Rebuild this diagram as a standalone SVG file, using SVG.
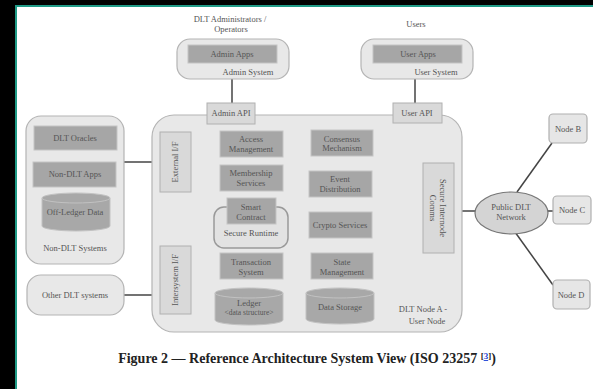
<svg xmlns="http://www.w3.org/2000/svg" width="593" height="389" viewBox="0 0 593 389">
<defs>
<style>
text{font-family:"Liberation Serif","DejaVu Serif",serif;font-size:8.5px;fill:#555;text-anchor:middle}
.cont{fill:#e8e8e8;stroke:#b4b4b4;stroke-width:1.2}
.dark{fill:#a6a6a6;stroke:#c4c4c4;stroke-width:1}
.iface{fill:#d9d9d9;stroke:#b0b0b0;stroke-width:1}
.cyl{fill:#a8a8a8;stroke:#c2c2c2;stroke-width:1}
.node{fill:#e6e6e6;stroke:#b0b0b0;stroke-width:1.2}
.conn line{stroke:#444;stroke-width:1.5}
.cap{font-size:14px;font-weight:bold;fill:#222}
</style>
</defs>
<rect x="0" y="0" width="593" height="389" fill="#000"/>
<rect x="15" y="5" width="578" height="384" fill="#1f9a86"/>
<rect x="17" y="7" width="576" height="382" fill="#fff"/>

<g class="conn" id="connectors">
<line x1="232" y1="79" x2="232" y2="103"/>
<line x1="415" y1="79" x2="415" y2="103"/>
<line x1="124" y1="162" x2="152" y2="162"/>
<line x1="124" y1="295" x2="152" y2="295"/>
<line x1="462" y1="211" x2="475" y2="211"/>
<line x1="517" y1="192" x2="552" y2="143"/>
<line x1="548" y1="211" x2="553" y2="211"/>
<line x1="515" y1="232" x2="553" y2="285"/>
</g>

<text x="230" y="22">DLT Administrators /</text>
<text x="231" y="32">Operators</text>
<text x="416" y="27">Users</text>

<g id="admin-system">
<rect class="cont" x="177" y="39" width="112" height="40" rx="13"/>
<rect class="dark" x="188" y="45" width="89" height="18"/>
<text x="232" y="57">Admin Apps</text>
<text x="248" y="75">Admin System</text>
</g>
<g id="user-system">
<rect class="cont" x="361" y="39" width="112" height="40" rx="13"/>
<rect class="dark" x="373" y="45" width="89" height="18"/>
<text x="418" y="57">User Apps</text>
<text x="436" y="75">User System</text>
</g>

<g id="non-dlt-systems">
<rect class="cont" x="26" y="116" width="98" height="148" rx="15"/>
<rect class="dark" x="34" y="126" width="83" height="24"/>
<text x="75" y="141">DLT Oracles</text>
<rect class="dark" x="33" y="162" width="83" height="25"/>
<text x="75" y="177">Non-DLT Apps</text>
<path class="cyl" d="M42,198 A34,5 0 0 1 110,198 V226 A34,5 0 0 1 42,226 Z"/>
<path d="M42,198 A34,5 0 0 0 110,198" fill="none" stroke="#c2c2c2"/>
<text x="75" y="215">Off-Ledger Data</text>
<text x="75" y="251">Non-DLT Systems</text>
</g>

<g id="other-dlt">
<rect class="cont" x="27" y="275" width="97" height="40" rx="14"/>
<text x="75" y="298">Other DLT systems</text>
</g>

<g id="node-a">
<rect class="cont" x="152" y="115" width="310" height="217" rx="22"/>
<text x="423" y="312">DLT Node A -</text>
<text x="427" y="324">User Node</text>
</g>

<g id="admin-api">
<rect class="iface" x="207" y="103" width="48" height="21"/>
<text x="231" y="116">Admin API</text>
</g>
<g id="user-api">
<rect class="iface" x="393" y="103" width="49" height="20"/>
<text x="417" y="116">User API</text>
</g>

<g id="external-if">
<rect class="iface" x="160" y="132" width="31" height="60"/>
<text transform="translate(178,162) rotate(-90)">External I/F</text>
</g>
<g id="intersystem-if">
<rect class="iface" x="160" y="246" width="31" height="68"/>
<text transform="translate(178,280) rotate(-90)">Intersystem I/F</text>
</g>

<g id="access-management">
<rect class="dark" x="220" y="131" width="63" height="26"/>
<text x="251" y="142">Access</text>
<text x="251" y="152">Management</text>
</g>
<g id="membership-services">
<rect class="dark" x="220" y="165" width="63" height="26"/>
<text x="251" y="176">Membership</text>
<text x="251" y="186">Services</text>
</g>
<g id="secure-runtime">
<rect x="214" y="207" width="74" height="41" rx="10" fill="#e2e2e2" stroke="#999" stroke-width="1.5"/>
<rect class="dark" x="227" y="198" width="49" height="26"/>
<text x="251" y="210">Smart</text>
<text x="251" y="220">Contract</text>
<text x="251" y="236">Secure Runtime</text>
</g>
<g id="transaction-system">
<rect class="dark" x="220" y="253" width="63" height="26"/>
<text x="251" y="265">Transaction</text>
<text x="251" y="275">System</text>
</g>
<g id="ledger">
<path class="cyl" d="M215,293 A34,5 0 0 1 283,293 V320 A34,5 0 0 1 215,320 Z"/>
<path d="M215,293 A34,5 0 0 0 283,293" fill="none" stroke="#c2c2c2"/>
<text x="249" y="306">Ledger</text>
<text x="249" y="315" style="font-size:7.5px">&lt;data structure&gt;</text>
</g>

<g id="consensus">
<rect class="dark" x="311" y="130" width="62" height="26"/>
<text x="342" y="142">Consensus</text>
<text x="342" y="151">Mechanism</text>
</g>
<g id="event-distribution">
<rect class="dark" x="309" y="171" width="63" height="26"/>
<text x="340" y="182">Event</text>
<text x="340" y="192">Distribution</text>
</g>
<g id="crypto-services">
<rect class="dark" x="309" y="212" width="63" height="26"/>
<text x="340" y="228">Crypto Services</text>
</g>
<g id="state-management">
<rect class="dark" x="311" y="253" width="62" height="26"/>
<text x="342" y="265">State</text>
<text x="342" y="275">Management</text>
</g>
<g id="data-storage">
<path class="cyl" d="M306,293 A34,5 0 0 1 374,293 V319 A34,5 0 0 1 306,319 Z"/>
<path d="M306,293 A34,5 0 0 0 374,293" fill="none" stroke="#c2c2c2"/>
<text x="340" y="310">Data Storage</text>
</g>

<g id="secure-internode">
<rect class="iface" x="423" y="163" width="31" height="90"/>
<text transform="translate(438,208) rotate(90)"><tspan x="0" y="-2">Secure Internode</tspan><tspan x="0" y="8">Comms</tspan></text>
</g>

<g id="public-dlt">
<ellipse cx="511.5" cy="213" rx="36.5" ry="21" fill="#d4d4d4" stroke="#777" stroke-width="1.2"/>
<text x="511" y="210">Public DLT</text>
<text x="511" y="220">Network</text>
</g>
<g id="node-b">
<rect class="node" x="549" y="114" width="38" height="29" rx="4"/>
<text x="568" y="132">Node B</text>
</g>
<g id="node-c">
<rect class="node" x="553" y="196" width="38" height="28" rx="4"/>
<text x="572" y="213">Node C</text>
</g>
<g id="node-d">
<rect class="node" x="553" y="280" width="37" height="29" rx="4"/>
<text x="571" y="298">Node D</text>
</g>

<text class="cap" x="307" y="363">Figure 2 — Reference Architecture System View (ISO 23257 <tspan style="font-size:9px" dy="-4">[</tspan><tspan style="font-size:9px;fill:#1a3fd6;text-decoration:underline">3</tspan><tspan style="font-size:9px">]</tspan><tspan dy="4">)</tspan></text>
</svg>
